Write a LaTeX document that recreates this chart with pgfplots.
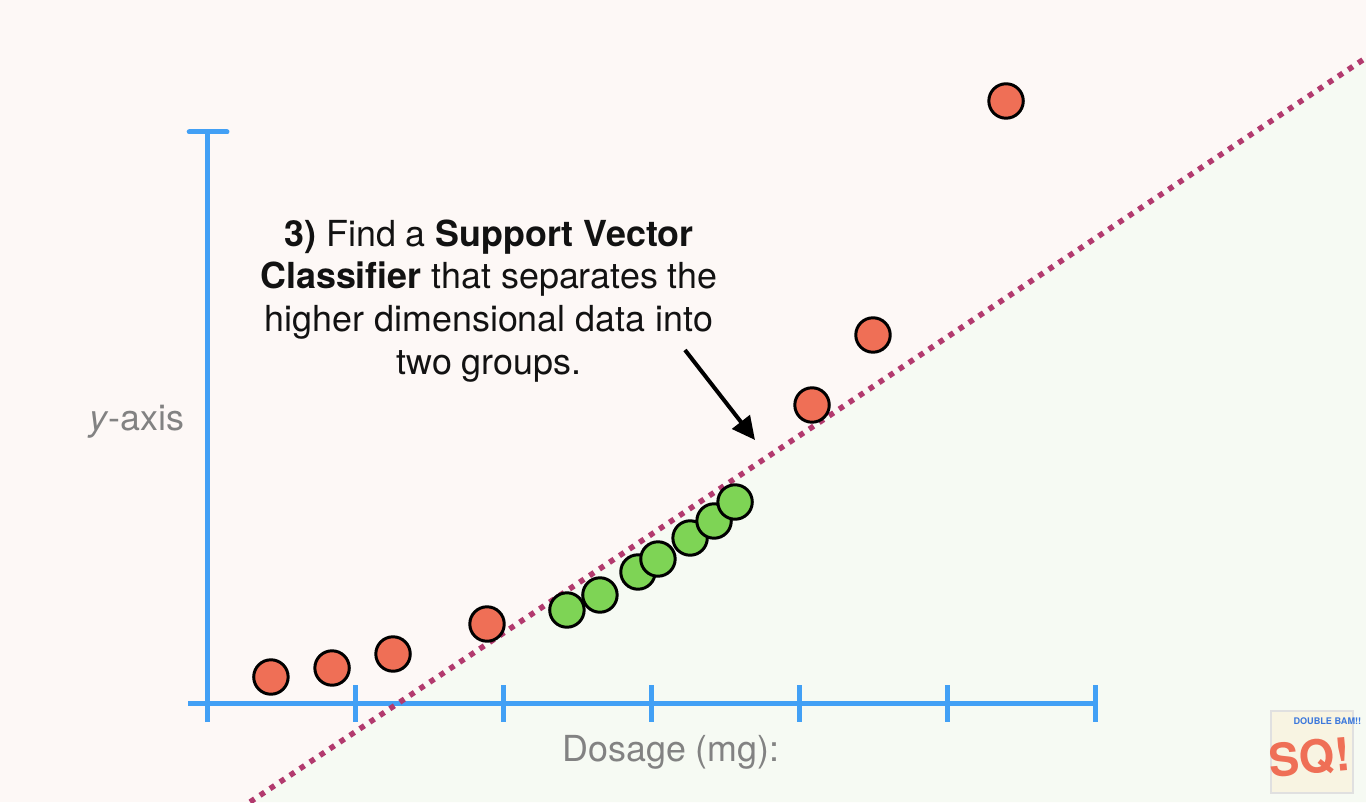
\documentclass[border=0pt]{standalone}
\usepackage{pgfplots}
\pgfplotsset{compat=1.18}
\usetikzlibrary{arrows.meta}
\usepackage{fontspec}
\setmainfont{TeX Gyre Heros}
\definecolor{bgpink}{RGB}{253,248,246}
\definecolor{bggreen}{RGB}{246,250,243}
\definecolor{axblue}{RGB}{66,160,245}
\definecolor{ptred}{RGB}{239,111,86}
\definecolor{ptgreen}{RGB}{126,212,85}
\definecolor{svc}{RGB}{178,58,110}
\definecolor{lblgray}{RGB}{130,130,130}
\definecolor{logobg}{RGB}{248,244,226}
\definecolor{logoblue}{RGB}{60,120,220}

\pgfplotstableread{
x y
0.432 0.26
0.845 0.35
1.257 0.49
1.892 0.79
4.088 2.98
4.500 3.68
5.399 6.02
}\redpts

\pgfplotstableread{
x y
2.432 0.93
2.655 1.08
2.912 1.31
3.047 1.44
3.264 1.65
3.426 1.82
3.568 2.01
}\greenpts

\begin{document}
\begin{tikzpicture}
\begin{axis}[
  scale only axis, width=136.6mm, height=80.2mm,
  xmin=-1.39865, xmax=7.83108, ymin=-0.99, ymax=7.03,
  hide axis, clip=true,
]
% background
\addplot[draw=none, fill=bgpink] coordinates {(-1.39865,-0.99) (7.83108,-0.99) (7.83108,7.03) (-1.39865,7.03)} -- cycle;
% region below the classifier
\addplot[draw=none, fill=bggreen] coordinates {(0.2907,-0.99) (7.83108,6.452) (7.83108,-0.99)} -- cycle;

% axes
\draw[axblue, line width=0.5mm] (axis cs:-0.128,0) -- (axis cs:6.014,0);
\draw[axblue, line width=0.5mm] (axis cs:0,-0.19) -- (axis cs:0,5.71);
\draw[axblue, line width=0.5mm, line cap=round] (axis cs:-0.12,5.71) -- (axis cs:0.135,5.71);
\pgfplotsinvokeforeach{1,2,3,4,5,6}{
  \draw[axblue, line width=0.5mm] (axis cs:#1,0.18) -- (axis cs:#1,-0.19);
}

% points
\addplot[only marks, mark=*, mark size=4.9pt, mark options={fill=ptred, draw=black, line width=0.85pt}] table[x=x,y=y] {\redpts};
\addplot[only marks, mark=*, mark size=4.9pt, mark options={fill=ptgreen, draw=black, line width=0.85pt}] table[x=x,y=y] {\greenpts};

% support vector classifier
\addplot[svc, line width=0.55mm, dash pattern=on 0.55mm off 0.65mm] coordinates {(0.2907,-0.99) (7.83108,6.452)};

% text
\node[align=center, font=\fontsize{10.2}{12.2}\selectfont, text=black!93] at (axis cs:1.905,4.02)
  {\textbf{3)} Find a \textbf{Support Vector}\\ \textbf{Classifier} that separates the\\ higher dimensional data into\\ two groups.};
\draw[-{Triangle[length=2.3mm,width=2.2mm]}, line width=0.4mm, black] (axis cs:3.2297,3.53) -- (axis cs:3.7027,2.63);

\node[anchor=base, text=lblgray, font=\fontsize{10.2}{12}\selectfont] at (axis cs:-0.473,2.72) {\textit{y}-axis};
\node[anchor=base, text=lblgray, font=\fontsize{10.2}{12}\selectfont] at (axis cs:3.135,-0.585) {Dosage (mg):};

% logo
\node[fill=logobg, draw=black!12, minimum size=8.2mm, inner sep=0pt] at (axis cs:7.466,-0.49) {};
\node[text=ptred, font=\bfseries\fontsize{13}{13}\selectfont, rotate=5] at (axis cs:7.45,-0.55) {SQ!};
\node[text=logoblue, font=\bfseries\fontsize{2.6}{3}\selectfont] at (axis cs:7.57,-0.18) {DOUBLE BAM!!};
\end{axis}
\end{tikzpicture}
\end{document}
